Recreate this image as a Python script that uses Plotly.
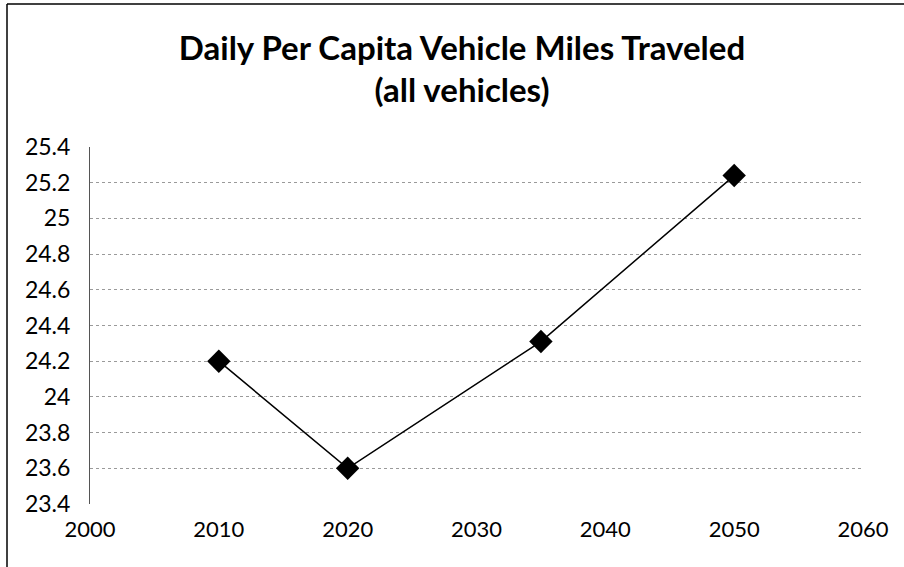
import plotly.graph_objects as go

years = [2010, 2020, 2035, 2050]
vmt = [24.2, 23.6, 24.31, 25.24]
x_ticks = [2000, 2010, 2020, 2030, 2040, 2050, 2060]
y_ticks = [23.4, 23.6, 23.8, 24, 24.2, 24.4, 24.6, 24.8, 25, 25.2, 25.4]
y_labels = ["23.4", "23.6", "23.8", "24", "24.2", "24.4", "24.6", "24.8", "25", "25.2", "25.4"]
title_text = "Daily Per Capita Vehicle Miles Traveled<br>(all vehicles)"

fig = go.Figure()
fig.add_trace(go.Scatter(
    x=years, y=vmt, mode="lines+markers",
    line=dict(color="black", width=1.5),
    marker=dict(symbol="diamond", size=18, color="black"),
    showlegend=False,
))

W, H = 904, 567
L, T = 90, 147
pw, ph = 773, 357
R, B = W - L - pw, H - T - ph

fig.update_layout(
    width=W, height=H,
    margin=dict(l=L, r=R, t=T, b=B),
    paper_bgcolor="white", plot_bgcolor="white",
    font=dict(family="Lato, sans-serif", color="black", size=22),
    title=dict(text=title_text, x=462 / W, xanchor="center", y=0.895, yanchor="top",
               font=dict(size=33, family="Lato, sans-serif", weight="bold")),
    xaxis=dict(range=[2000, 2060], tickvals=x_ticks,
               showgrid=False, zeroline=False, showline=False, ticks="",
               ticklabelstandoff=10, tickfont=dict(size=22)),
    yaxis=dict(range=[23.4, 25.4], tickvals=y_ticks, ticktext=y_labels,
               showgrid=True, gridcolor="#9a9a9a", griddash="dot", gridwidth=1,
               zeroline=False, showline=True, linecolor="#555555", linewidth=1,
               ticks="", ticklabelstandoff=14, tickfont=dict(size=23)),
)

# outer chart border (left and top edges visible in the reference)
x0 = (7 - L) / pw
y0 = 1 + (T - 4) / ph
fig.add_shape(type="line", xref="paper", yref="paper", x0=x0, x1=(W - L) / pw + 0.05,
              y0=y0, y1=y0, line=dict(color="black", width=1.5))
fig.add_shape(type="line", xref="paper", yref="paper", x0=x0, x1=x0,
              y0=y0, y1=-B / ph - 0.05, line=dict(color="black", width=1.5))

fig.write_html("out.html",
               config={"displayModeBar": False},
               post_script="document.body.style.margin='0';document.body.style.overflow='hidden';")
